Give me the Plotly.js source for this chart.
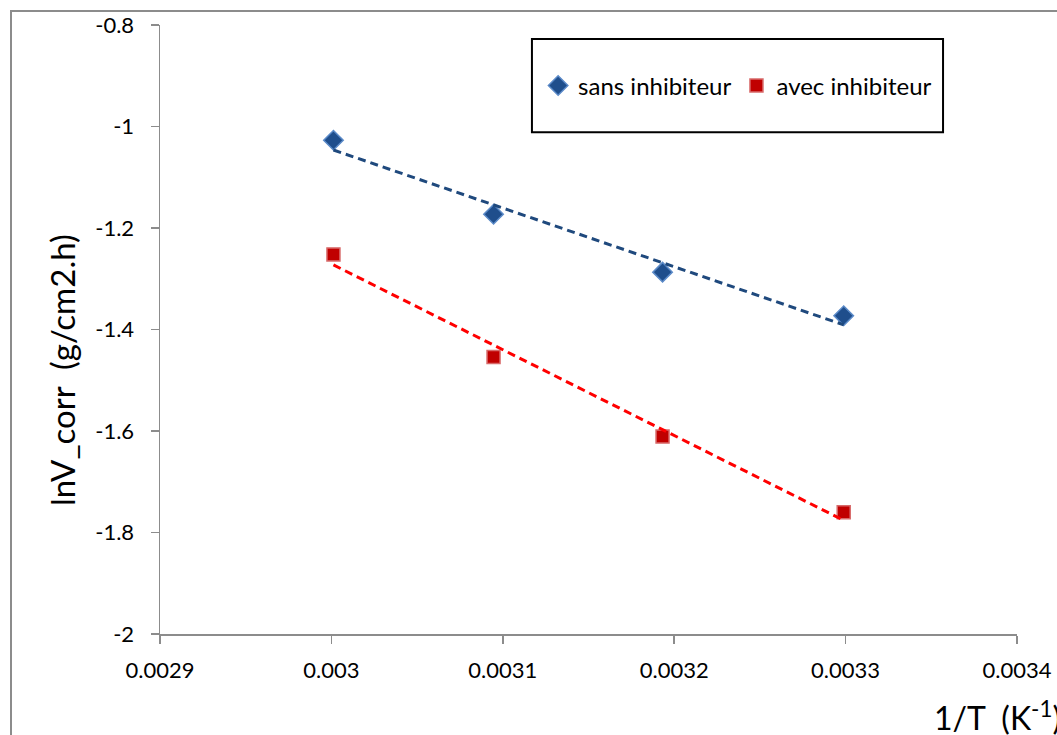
<!DOCTYPE html>
<html><head><meta charset="utf-8">
<script src="https://cdn.plot.ly/plotly-3.0.1.min.js"></script>
<style>
html,body{margin:0;padding:0;background:#fff;overflow:hidden}
#wrap{position:relative;width:1057px;height:735px}
#chart{width:1057px;height:735px}
#frame{position:absolute;left:10px;top:10px;width:1100px;height:800px;border:2px solid #8c8c8c;pointer-events:none}
</style></head>
<body><div id="wrap"><div id="chart"></div><div id="frame"></div></div>
<script>
const invT = [0.0030012, 0.0030946, 0.0031932, 0.0032989];
const sansInhibiteur = [-1.027, -1.173, -1.287, -1.373];
const avecInhibiteur = [-1.252, -1.454, -1.611, -1.760];
const seriesNames = ['sans inhibiteur', 'avec inhibiteur'];
const xTicks = [0.0029, 0.003, 0.0031, 0.0032, 0.0033, 0.0034];
const xTickText = ['0.0029', '0.003', '0.0031', '0.0032', '0.0033', '0.0034'];
const yTicks = [-2, -1.8, -1.6, -1.4, -1.2, -1, -0.8];
const yTickText = ['-2', '-1.8', '-1.6', '-1.4', '-1.2', '-1', '-0.8'];
const yTitle = 'lnV_corr&nbsp;&nbsp;(g/cm2.h)';
const xTitle = '1/T&nbsp;&nbsp;(K<sup>-1</sup>)';

function linfit(x, y) {
  const n = x.length;
  const mx = x.reduce((a,b)=>a+b,0)/n, my = y.reduce((a,b)=>a+b,0)/n;
  let sxy=0, sxx=0;
  for (let i=0;i<n;i++){ sxy+=(x[i]-mx)*(y[i]-my); sxx+=(x[i]-mx)*(x[i]-mx); }
  const b = sxy/sxx, a = my - b*mx;
  return x.map(v => a + b*v);
}

const FONT = 'Lato, "Open Sans", sans-serif';
const traces = [
  {x: invT, y: sansInhibiteur, name: seriesNames[0], mode: 'markers', type: 'scatter',
   marker: {symbol: 'diamond', size: 15, color: '#1F4E8C', line: {color: '#5B8AC8', width: 1.5}}},
  {x: invT, y: avecInhibiteur, name: seriesNames[1], mode: 'markers', type: 'scatter',
   marker: {symbol: 'square', size: 13, color: '#C00000', line: {color: '#D86A6A', width: 1.5}}},
  {x: invT, y: linfit(invT, sansInhibiteur), mode: 'lines', type: 'scatter', showlegend: false, hoverinfo: 'skip',
   line: {color: '#1F497D', width: 3, dash: '8px,5px'}},
  {x: invT, y: linfit(invT, avecInhibiteur), mode: 'lines', type: 'scatter', showlegend: false, hoverinfo: 'skip',
   line: {color: '#FF0000', width: 3, dash: '8px,5px'}}
];

const layout = {
  width: 1057, height: 735,
  margin: {l: 160, r: 40, t: 25, b: 101},
  paper_bgcolor: '#fff', plot_bgcolor: '#fff',
  font: {family: FONT, color: '#000', size: 22},
  showlegend: true,
  legend: {x: 0.674, y: 0.90, xanchor: 'center', yanchor: 'middle', orientation: 'h',
    bgcolor: 'rgba(0,0,0,0)', borderwidth: 0, font: {size: 24, family: FONT}, itemwidth: 30},
  xaxis: {range: [0.0029, 0.0034], tickvals: xTicks, ticktext: xTickText,
    showgrid: false, zeroline: false, showline: true, linecolor: '#8c8c8c', linewidth: 1.5,
    ticks: 'outside', ticklen: 8, tickcolor: '#8c8c8c', tickwidth: 1.5, ticklabelstandoff: 8,
    tickfont: {size: 22, family: FONT}},
  yaxis: {range: [-2, -0.8], tickvals: yTicks, ticktext: yTickText,
    showgrid: false, zeroline: false, showline: true, linecolor: '#8c8c8c', linewidth: 1.5,
    ticks: 'outside', ticklen: 8, tickcolor: '#8c8c8c', tickwidth: 1.5, ticklabelstandoff: 12,
    tickfont: {size: 22, family: FONT}},
  shapes: [{type: 'rect', xref: 'paper', yref: 'paper', x0: 0.434, x1: 0.9137, y0: 0.824, y1: 0.977,
    line: {color: '#000', width: 2}, fillcolor: 'rgba(0,0,0,0)'}],
  annotations: [
    {xref: 'paper', yref: 'paper', x: -0.1039, y: 0.4844, xanchor: 'center', yanchor: 'middle',
     xshift: -9, yshift: -31,
     textangle: -90, text: yTitle, showarrow: false, font: {size: 33, family: FONT}},
    {xref: 'paper', yref: 'paper', x: 0.9008, y: -0.1346, xanchor: 'left', yanchor: 'middle',
     text: xTitle, showarrow: false, font: {size: 32, family: FONT}}
  ]
};
Plotly.newPlot('chart', traces, layout, {displayModeBar: false, staticPlot: true});
</script></body></html>
